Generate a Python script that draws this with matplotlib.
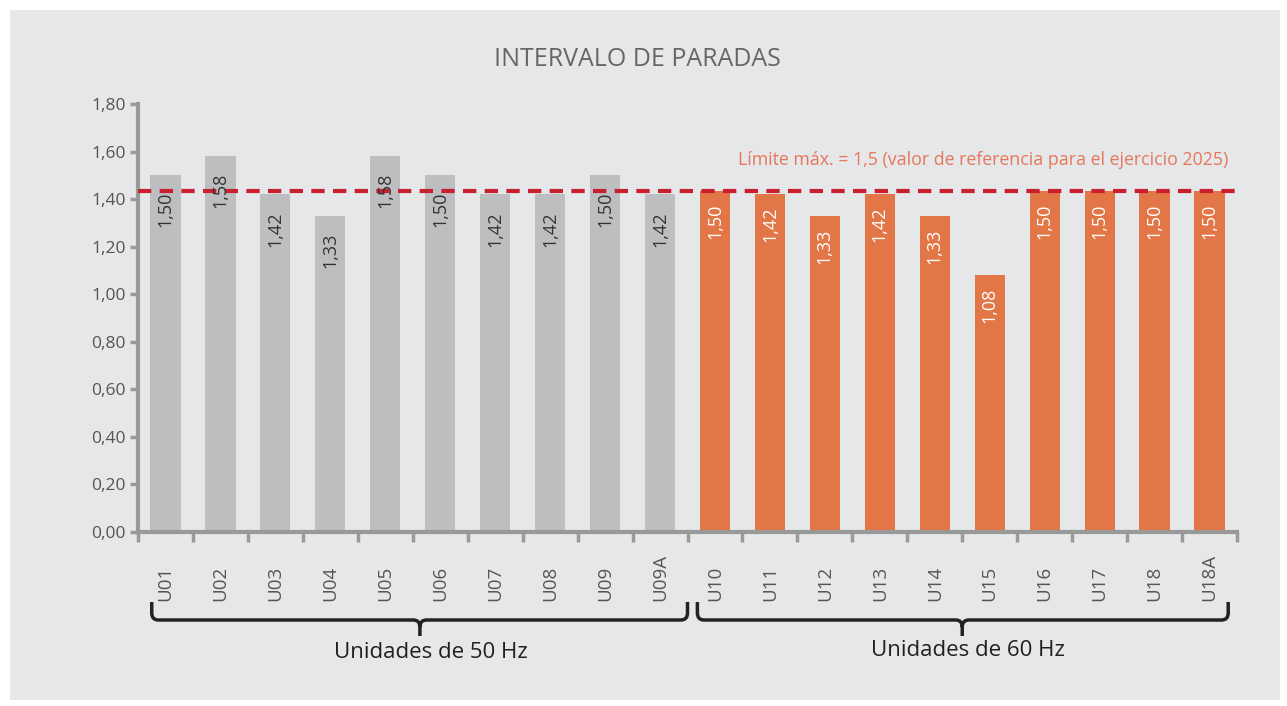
import numpy as np
import matplotlib
matplotlib.use('Agg')
import matplotlib.pyplot as plt
from matplotlib.path import Path
from matplotlib.patches import PathPatch, Rectangle
from matplotlib.transforms import blended_transform_factory

units_50 = ['U01', 'U02', 'U03', 'U04', 'U05', 'U06', 'U07', 'U08', 'U09', 'U09A']
vals_50 = [1.50, 1.58, 1.42, 1.33, 1.58, 1.50, 1.42, 1.42, 1.50, 1.42]
units_60 = ['U10', 'U11', 'U12', 'U13', 'U14', 'U15', 'U16', 'U17', 'U18', 'U18A']
vals_60 = [1.50, 1.42, 1.33, 1.42, 1.33, 1.08, 1.50, 1.50, 1.50, 1.50]
limit_line = 1.435  # where the dashed line sits in the picture
yticks = [0.0, 0.2, 0.4, 0.6, 0.8, 1.0, 1.2, 1.4, 1.6, 1.8]

plt.rcParams['font.family'] = ['Open Sans', 'DejaVu Sans']

bg = '#E6E7E8'
fig = plt.figure(figsize=(12.87, 7.06), dpi=100, facecolor='white')
fig.patches.append(Rectangle((10/1287, 6/706), 1270/1287, 690/706, transform=fig.transFigure,
                             facecolor=bg, edgecolor='none', zorder=-10))
ax = fig.add_axes([138/1287, 1-532/706, (1237-138)/1287, 428/706])
ax.set_facecolor('none')

n50 = len(units_50)
x50 = np.arange(n50)
x60 = np.arange(len(units_60)) + n50
w = 0.55
h60 = np.minimum(vals_60, limit_line)  # orange bars stop at the line in the original

ax.bar(x50, vals_50, width=w, color='#BDBEC0', zorder=2)
ax.bar(x60, h60, width=w, color='#E27646', zorder=2)

for x, v in zip(x50, vals_50):
    ax.annotate(f'{v:.2f}'.replace('.', ','), (x, v), xytext=(0, -12), textcoords='offset points',
                rotation=90, ha='center', va='top', fontsize=13, color='#333333', zorder=4)
for x, h, v in zip(x60, h60, vals_60):
    ax.annotate(f'{v:.2f}'.replace('.', ','), (x, h), xytext=(0, -9), textcoords='offset points',
                rotation=90, ha='center', va='top', fontsize=13, color='white', zorder=4)

ax.axhline(limit_line, color='#C8202E', lw=3, dashes=(3.2, 2.0), zorder=3)
ax.text(19.35, 1.565, 'Límite máx. = 1,5 (valor de referencia para el ejercicio 2025)',
        ha='right', va='center', fontsize=12.8, color='#E8765A')

ax.set_xlim(-0.5, 19.5)
ax.set_ylim(0, 1.8)
ax.set_yticks(yticks)
ax.set_yticklabels([f'{t:.2f}'.replace('.', ',') for t in yticks], fontsize=12.5, color='#555555')
ax.tick_params(axis='y', length=6, width=2.5, color='#999999', pad=3)

ax.set_xticks(np.arange(-0.5, 20, 1))
ax.set_xticklabels([])
ax.tick_params(axis='x', which='major', length=7, width=2.5, color='#999999', direction='out')
ax.set_xticks(np.arange(20), minor=True)
ax.set_xticklabels(units_50 + units_60, minor=True, rotation=90, fontsize=13.5, color='#555555',
                   rotation_mode='anchor', ha='left', va='center')
ax.tick_params(axis='x', which='minor', length=0, pad=50)

for s in ['top', 'right']:
    ax.spines[s].set_visible(False)
for s in ['left', 'bottom']:
    ax.spines[s].set_color('#999999')
    ax.spines[s].set_linewidth(3)

fig.text(637/1287, 1-60/706, 'INTERVALO DE PARADAS', ha='center', va='center',
         fontsize=18, color='#666666')

# braces under the unit labels
tr = blended_transform_factory(ax.transData, fig.transFigure)

def brace(x0, x1, xc):
    yt, ym, yb = 1-602/706, 1-620/706, 1-636/706
    r = 0.01
    dx = 0.12
    verts = [(x0, yt), (x0, ym + r), (x0, ym), (x0 + dx, ym),
             (xc - dx, ym), (xc, ym), (xc, ym - r), (xc, yb),
             (xc, ym - r), (xc, ym), (xc + dx, ym),
             (x1 - dx, ym), (x1, ym), (x1, ym + r), (x1, yt)]
    codes = [Path.MOVETO, Path.LINETO, Path.CURVE3, Path.CURVE3,
             Path.LINETO, Path.CURVE3, Path.CURVE3, Path.LINETO,
             Path.MOVETO, Path.CURVE3, Path.CURVE3,
             Path.LINETO, Path.CURVE3, Path.CURVE3, Path.LINETO]
    fig.patches.append(PathPatch(Path(verts, codes), transform=tr, fill=False,
                                 edgecolor='#222222', lw=2.5))

brace(-0.25, 9.5, 4.63)
brace(9.68, 19.34, 14.5)

fig.text(431/1287, 1-652/706, 'Unidades de 50 Hz', ha='center', va='center', fontsize=16, color='#231F20')
fig.text(968/1287, 1-650/706, 'Unidades de 60 Hz', ha='center', va='center', fontsize=16, color='#231F20')

plt.savefig('out.png', dpi=100, facecolor='white')
